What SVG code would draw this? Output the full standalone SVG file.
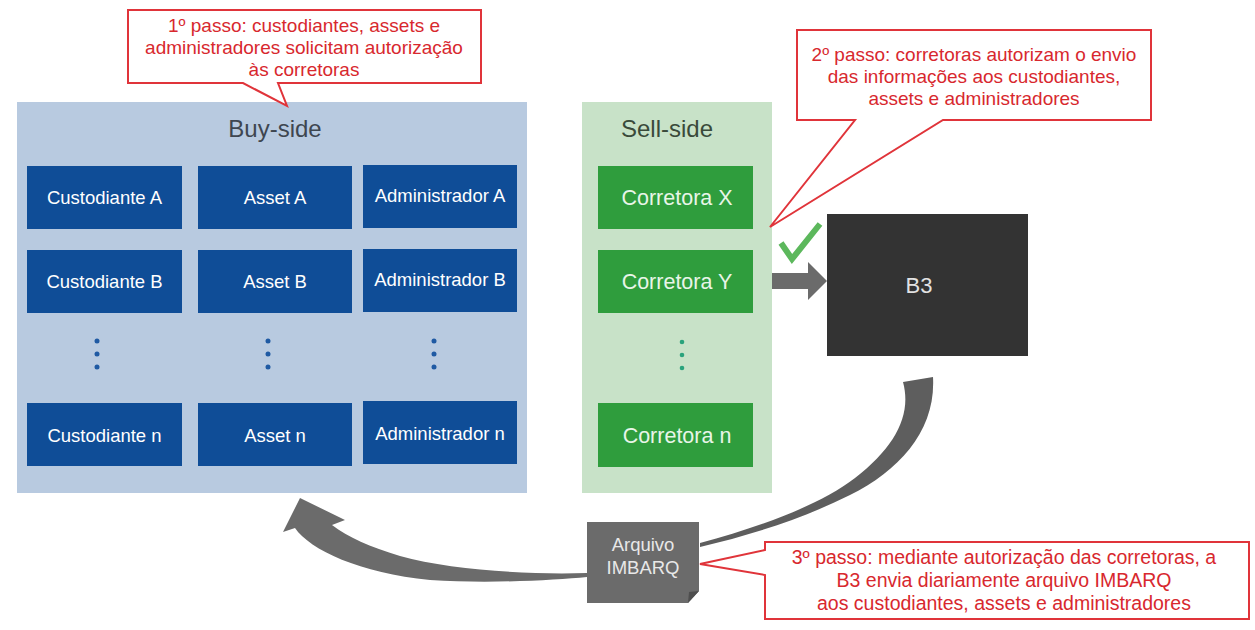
<svg xmlns="http://www.w3.org/2000/svg" width="1255" height="630" viewBox="0 0 1255 630">
<defs>
<style>
text{font-family:"Liberation Sans",Arial,sans-serif;text-anchor:middle}
.bb{fill:#0f4d97}
.bt{fill:#ffffff;font-size:18.5px}
.gb{fill:#2f9d3d}
.gt{fill:#e8f5e8;font-size:21.5px}
.bd{fill:#1f5aa3}
.gd{fill:#2aa37c}
.co{fill:#ffffff;stroke:#e0343a;stroke-width:2;stroke-linejoin:miter}
.ct{fill:#d8282e;font-size:19px}
.gr{fill:#6b6b6b}
</style>
</defs>
<rect width="1255" height="630" fill="#ffffff"/>

<g id="buy-side">
<rect x="17" y="102" width="510" height="391" fill="#b8cae0"/>
<text x="275" y="137" style="font-size:24px;fill:#3e4650">Buy-side</text>
</g>
<g id="custodiante-a"><rect class="bb" x="27" y="166" width="155" height="63"/><text class="bt" x="104.5" y="204">Custodiante A</text></g>
<g id="asset-a"><rect class="bb" x="198" y="166" width="154" height="63"/><text class="bt" x="275" y="204">Asset A</text></g>
<g id="administrador-a"><rect class="bb" x="363" y="165" width="154" height="63"/><text class="bt" x="440" y="202">Administrador A</text></g>
<g id="custodiante-b"><rect class="bb" x="27" y="250" width="155" height="63"/><text class="bt" x="104.5" y="288">Custodiante B</text></g>
<g id="asset-b"><rect class="bb" x="198" y="250" width="154" height="63"/><text class="bt" x="275" y="288">Asset B</text></g>
<g id="administrador-b"><rect class="bb" x="363" y="249" width="154" height="63"/><text class="bt" x="440" y="286">Administrador B</text></g>
<g id="dots-buy">
<circle class="bd" cx="97" cy="341" r="2.5"/><circle class="bd" cx="97" cy="354" r="2.5"/><circle class="bd" cx="97" cy="367" r="2.5"/>
<circle class="bd" cx="268" cy="341" r="2.5"/><circle class="bd" cx="268" cy="354" r="2.5"/><circle class="bd" cx="268" cy="367" r="2.5"/>
<circle class="bd" cx="434" cy="341" r="2.5"/><circle class="bd" cx="434" cy="354" r="2.5"/><circle class="bd" cx="434" cy="367" r="2.5"/>
</g>
<g id="custodiante-n"><rect class="bb" x="27" y="403" width="155" height="63"/><text class="bt" x="104.5" y="442">Custodiante n</text></g>
<g id="asset-n"><rect class="bb" x="198" y="403" width="154" height="63"/><text class="bt" x="275" y="442">Asset n</text></g>
<g id="administrador-n"><rect class="bb" x="363" y="401" width="154" height="63"/><text class="bt" x="440" y="440">Administrador n</text></g>

<g id="sell-side">
<rect x="582" y="102" width="190" height="391" fill="#c8e2c8"/>
<text x="667" y="137" style="font-size:24px;fill:#3a4a3a">Sell-side</text>
</g>
<g id="corretora-x"><rect class="gb" x="598" y="166" width="155" height="63"/><text class="gt" x="677" y="205">Corretora X</text></g>
<g id="corretora-y"><rect class="gb" x="598" y="250" width="155" height="63"/><text class="gt" x="677" y="289">Corretora Y</text></g>
<g id="dots-sell"><circle class="gd" cx="682" cy="342" r="2.3"/><circle class="gd" cx="682" cy="355" r="2.3"/><circle class="gd" cx="682" cy="368" r="2.3"/></g>
<g id="corretora-n"><rect class="gb" x="598" y="403" width="155" height="64"/><text class="gt" x="677" y="443">Corretora n</text></g>

<g id="b3">
<rect x="827" y="214" width="201" height="142" fill="#333333"/>
<text x="919" y="293" style="font-size:22px;fill:#e2e2e2">B3</text>
</g>

<g id="connectors">
<polygon class="gr" points="772,273 808,273 808,262 827,281 808,300 808,289 772,289"/>
<polyline points="781,243 792,259 820,224" fill="none" stroke="#5cb85c" stroke-width="6"/>
<path fill="#5e5e5e" d="M903,382 L933,377 C936,430 900,470 850,495 C800,520 750,535 700,547 L700,543 C760,527 820,505 855,478 C895,447 912,415 903,382 Z"/>
<path fill="#6b6b6b" d="M587,573 C530,575 450,570 400,556 C370,547 348,537 332,525 L345,520 L300,498 L283,532 L295,528 C310,550 360,573 430,580 C490,584 555,580 587,577 Z"/>
</g>

<g id="arquivo-imbarq">
<path class="gr" d="M587,522 H699 V591 L688,603 H587 Z"/>
<path fill="#4e4e4e" d="M688,603 L689,592 L699,591 Z"/>
<text x="643" y="551" style="font-size:18.5px;fill:#e8e8e8">Arquivo</text>
<text x="643" y="574" style="font-size:18.5px;fill:#e8e8e8">IMBARQ</text>
</g>

<g id="callout-1">
<path class="co" d="M128,10 H481 V83 H278 L287,106 L243,83 H128 Z"/>
<text class="ct" x="304" y="32">1º passo: custodiantes, assets e</text>
<text class="ct" x="304" y="54">administradores solicitam autorização</text>
<text class="ct" x="304" y="76">às corretoras</text>
</g>
<g id="callout-2">
<path class="co" d="M797,30 H1151 V120 H943 L770,227 L855,120 H797 Z"/>
<text class="ct" x="974" y="61">2º passo: corretoras autorizam o envio</text>
<text class="ct" x="974" y="83">das informações aos custodiantes,</text>
<text class="ct" x="974" y="105">assets e administradores</text>
</g>
<g id="callout-3">
<path class="co" d="M765,542 H1249 V619 H765 V575 L700,564 L765,550 Z"/>
<text class="ct" style="font-size:19.5px" x="1004" y="564">3º passo: mediante autorização das corretoras, a</text>
<text class="ct" style="font-size:19.5px" x="1004" y="587">B3 envia diariamente arquivo IMBARQ</text>
<text class="ct" style="font-size:19.5px" x="1004" y="610">aos custodiantes, assets e administradores</text>
</g>
</svg>
